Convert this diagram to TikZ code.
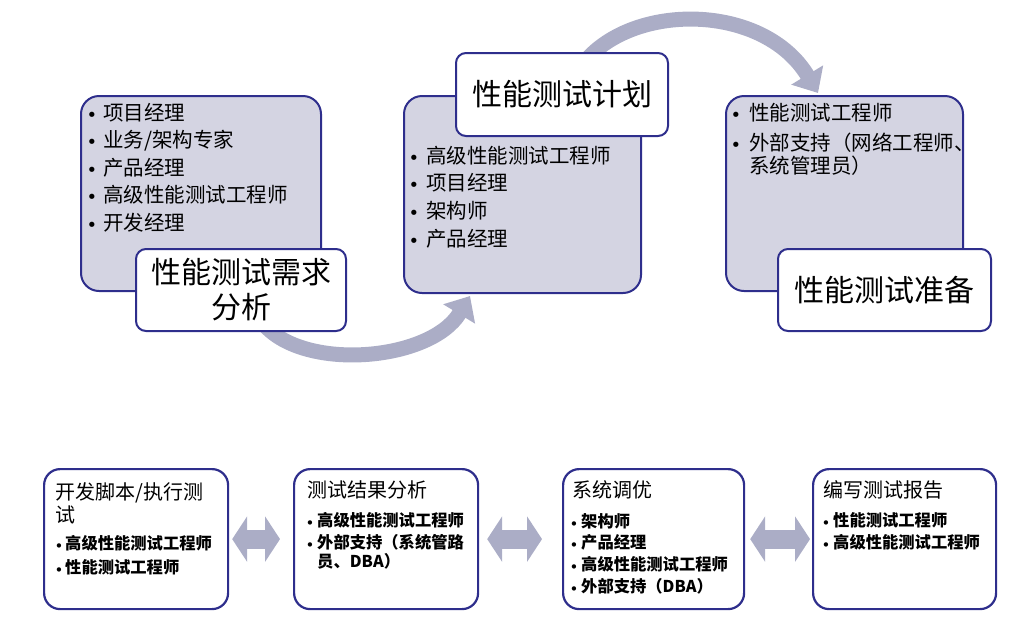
\documentclass[tikz,border=0pt]{standalone}
\usepackage{fontspec}
\setmainfont{Noto Sans CJK SC}
\newfontfamily\bulfont{DejaVu Sans}
\usetikzlibrary{arrows.meta,calc}
\definecolor{navy}{HTML}{2E2E8C}
\definecolor{boxgray}{HTML}{D4D4E2}
\definecolor{arrowgray}{HTML}{ABADC6}
\tikzset{
 gbox/.style={draw=navy, fill=boxgray, line width=2pt, rounded corners=18pt, anchor=north west, inner sep=0pt},
 wbox/.style={draw=navy, fill=white, line width=2pt, rounded corners=10pt, anchor=north west, inner sep=0pt},
 bbox/.style={draw=navy, fill=white, line width=2.2pt, rounded corners=16pt, anchor=north west, inner sep=0pt},
 big/.style={font=\fontsize{30}{35}\selectfont, align=center, inner sep=0pt},
 toptxt/.style={anchor=base west, inner sep=0pt, font=\fontsize{20.5}{20.5}\selectfont},
 topdot/.style={anchor=base, inner sep=0pt, font=\bulfont\fontsize{18}{18}\selectfont},
 ttl/.style={anchor=base west, inner sep=0pt, font=\fontsize{20}{20}\selectfont},
 bottxt/.style={anchor=base west, inner sep=0pt, font=\bfseries\fontsize{16.3}{16.3}\selectfont},
 botdot/.style={anchor=base, inner sep=0pt, font=\bulfont\fontsize{15}{15}\selectfont},
 curv/.style={draw=arrowgray, line width=15pt, -{Triangle[width=36pt,length=21pt]}},
 dbl/.style={draw=arrowgray, line width=19pt, {Triangle[width=45pt,length=15pt]}-{Triangle[width=45pt,length=15pt]}},
}
\begin{document}
\begin{tikzpicture}[x=1pt,y=-1pt]
\useasboundingbox (0,0) rectangle (1024,622);

% curved arrows (under the boxes)
\coordinate (c1s) at (262,322);
\coordinate (c1e) at (470,296);
\coordinate (c2s) at (588,58);
\coordinate (c2e) at (818,93);
\draw[curv] (c1s) .. controls (300,372) and (430,362) .. (c1e);
\draw[curv] (c2s) .. controls (640,2) and (765,5) .. (c2e);

% top grey boxes
\node[gbox, minimum width=240pt, minimum height=195pt] (g1) at (80,95) {};
\node[gbox, minimum width=237pt, minimum height=197pt] (g2) at (403,95) {};
\node[gbox, minimum width=237pt, minimum height=195pt] (g3) at (725,95) {};

% top labels
\node[wbox, minimum width=210pt, minimum height=82pt] (l1) at (135,248) {};
\node[big] (l1t) at (l1.center) {性能测试需求\\分析};
\node[wbox, minimum width=212pt, minimum height=83pt] (l2) at (455,52) {};
\node[big] (l2t) at (l2.center) {性能测试计划};
\node[wbox, minimum width=213pt, minimum height=82pt] (l3) at (777,248) {};
\node[big] (l3t) at (l3.center) {性能测试准备};

% top box texts
\foreach \t [count=\i] in {项目经理, 业务/架构专家, 产品经理, 高级性能测试工程师, 开发经理} {
  \node[topdot] (g1d\i) at (92, {112+27.5*(\i-1)+9}) {•};
  \node[toptxt] (g1t\i) at (103, {112+27.5*(\i-1)+8}) {\t};
}
\foreach \t [count=\i] in {高级性能测试工程师, 项目经理, 架构师, 产品经理} {
  \node[topdot] (g2d\i) at (414, {155+27.7*(\i-1)+9}) {•};
  \node[toptxt] (g2t\i) at (426, {155+27.7*(\i-1)+8}) {\t};
}
\node[topdot] (g3d1) at (736, 121) {•};
\node[toptxt] (g3t1) at (749, 120) {性能测试工程师};
\node[topdot] (g3d2) at (736, 151) {•};
\node[toptxt] (g3t2) at (749, 150) {外部支持（网络工程师、};
\node[toptxt] (g3t3) at (749, 173) {系统管理员）};

% bottom boxes
\node[bbox, minimum width=184pt, minimum height=140pt] (A) at (43,468) {};
\node[bbox, minimum width=184pt, minimum height=140pt] (B) at (293,468) {};
\node[bbox, minimum width=181pt, minimum height=140pt] (C) at (562,468) {};
\node[bbox, minimum width=183pt, minimum height=140pt] (D) at (812,468) {};

% double arrows
\draw[dbl] ($(A.east)+(3,0)$) -- ($(B.west)+(-13,0)$);
\draw[dbl] ($(B.east)+(8,0)$) -- ($(C.west)+(-20,0)$);
\draw[dbl] ($(C.east)+(5,0)$) -- ($(D.west)+(-2,0)$);

% bottom titles
\node[ttl] (At1) at (55,499) {开发脚本/执行测};
\node[ttl] (At2) at (55,522) {试};
\node[ttl] (Bt) at (307,497) {测试结果分析};
\node[ttl] (Ct) at (572,497) {系统调优};
\node[ttl] (Dt) at (823,497) {编写测试报告};

% bottom bullets
\foreach \t/\y [count=\i] in {高级性能测试工程师/543, 性能测试工程师/567} {
  \node[botdot] (Ad\i) at (59, \y+8) {•};
  \node[bottxt] (Ab\i) at (65, \y+6) {\t};
}
\foreach \t/\y [count=\i] in {高级性能测试工程师/520, 外部支持（系统管路/542} {
  \node[botdot] (Bd\i) at (310, \y+8) {•};
  \node[bottxt] (Bb\i) at (317, \y+6) {\t};
}
\node[bottxt] (Bb3) at (317, 567) {员、DBA）};
\foreach \t/\y [count=\i] in {架构师/521, 产品经理/542, 高级性能测试工程师/564, 外部支持（DBA）/586} {
  \node[botdot] (Cd\i) at (574, \y+8) {•};
  \node[bottxt] (Cb\i) at (581, \y+6) {\t};
}
\foreach \t/\y [count=\i] in {性能测试工程师/520, 高级性能测试工程师/542} {
  \node[botdot] (Dd\i) at (826, \y+8) {•};
  \node[bottxt] (Db\i) at (833, \y+6) {\t};
}
\end{tikzpicture}
\end{document}
